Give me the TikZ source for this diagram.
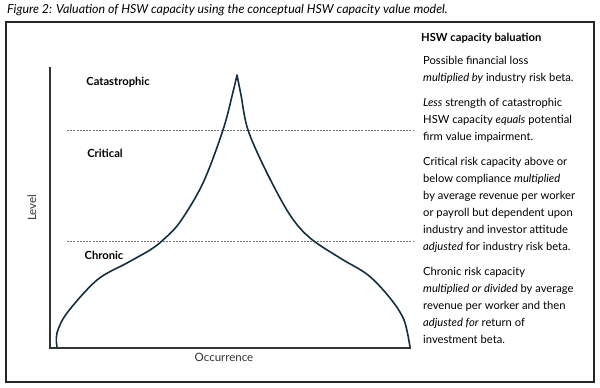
\documentclass[tikz,border=0pt]{standalone}
\usepackage{fontspec}
\setmainfont{Lato}
\definecolor{riskline}{HTML}{12303F}

\begin{document}
\begin{tikzpicture}
      [x=1pt,y=-1pt,%%%%%%%%%%%%%%%%%%%%%%%%%%%%%%
      frame/.style={draw=black!85,line width=1.1pt},
      axis/.style={draw=black!80,line width=1.1pt},
      cut/.style={draw=black!55,line width=0.6pt,dash pattern=on 2pt off 1.2pt},
      curve/.style={draw=riskline,line width=1.6pt,line join=round},
      level/.style={font=\bfseries\fontsize{11.2}{13}\selectfont,inner sep=0pt},
      axislabel/.style={font=\fontsize{11.5}{13}\selectfont,text=black!80,inner sep=0pt},
      note/.style={font=\fontsize{11.2}{17}\selectfont,align=left,inner sep=0pt,anchor=north west},
      ]%%%%%%%%%%%%%%%%%%%%%%%%%%%%%%
      \useasboundingbox (0,0) rectangle (600,388);
      
      \node[anchor=west,inner sep=0pt,font=\itshape\fontsize{12.4}{14}\selectfont] (caption) at (7,10)
        {Figure 2: Valuation of HSW capacity using the conceptual HSW capacity value model.};
      \draw[frame] (6,22) rectangle (594,382);
      
      % axes
      \coordinate (ytop) at (50,67);
      \coordinate (origin) at (50,348);
      \coordinate (xend) at (411,348);
      \draw[axis] (ytop) -- (origin) -- (xend);
      \node[axislabel,rotate=90] (level) at (32,208) {Level};
      \node[axislabel] (occ) at (224,357) {Occurrence};
      
      % thresholds
      \coordinate (catL) at (67,130);
      \coordinate (catR) at (413,130);
      \coordinate (chrL) at (67,241);
      \coordinate (chrR) at (413,241);
      \draw[cut] (catL) -- (catR);
      \draw[cut] (chrL) -- (chrR);
      
      \node[level] (cat) at (118,82) {Catastrophic};
      \node[level] (crit) at (105,153) {Critical};
      \node[level] (chron) at (104,255) {Chronic};
      
      % risk curve
      \draw[curve] plot[smooth,tension=0.55] coordinates
        {(57,347) (57,333) (67,313) (97,280) (127,263) (150,250) (163,240) (180,222)
         (203,183) (223,130) (233,92) (237,75)}
        -- plot[smooth,tension=0.55] coordinates
        {(237,75) (241,95) (248,130) (267,173) (290,215) (310,238)
         (340,258) (368,275) (390,298) (404,320) (410,347)};
      
      % valuation notes
      \node[anchor=west,inner sep=0pt,font=\bfseries\fontsize{11.2}{13}\selectfont] (head) at (421,38)
        {HSW capacity baluation};
      \node[note] (notes) at (423,56)
        {Possible financial loss\\
         \textit{multiplied by} industry risk beta.\\[8pt]
         \textit{Less} strength of catastrophic\\
         HSW capacity \textit{equals} potential\\
         firm value impairment.\\[8pt]
         Critical risk capacity above or\\
         below compliance \textit{multiplied}\\
         by average revenue per worker\\
         or payroll but dependent upon\\
         industry and investor attitude\\
         \textit{adjusted} for industry risk beta.\\[8pt]
         Chronic risk capacity\\
         \textit{multiplied or divided} by average\\
         revenue per worker and then\\
         \textit{adjusted for} return of\\
         investment beta.};
    \end{tikzpicture}
\end{document}
